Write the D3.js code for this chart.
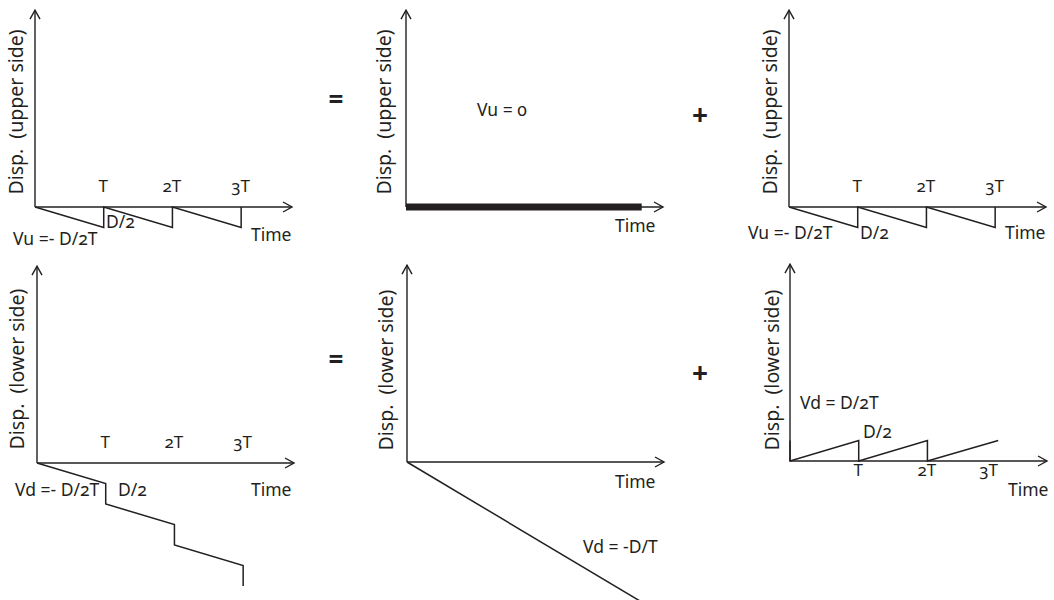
<!DOCTYPE html>
<html><head><meta charset="utf-8">
<script src="https://cdn.jsdelivr.net/npm/d3@7"></script>
<style>
body{margin:0;background:#fff}
svg{display:block;font-family:"Noto Sans",sans-serif;font-variant-numeric:oldstyle-nums;font-feature-settings:"onum" 1;}
text{fill:#231f20}
</style></head><body><svg id="c" width="1054" height="600"></svg>
<script>
// ---- data ----
const tickValues = [1, 2, 3];
const tickLabels = ["T", "2T", "3T"];
const upperSawT = [0, 1, 1, 2, 2, 3, 3];
const upperSawV = [0, -0.5, 0, -0.5, 0, -0.5, 0];
const zeroT = [0, 3.43];
const zeroV = [0, 0];
const stairT = [0, 1, 1, 2, 2, 3, 3];
const stairV = [0, -0.5, -1, -1.5, -2, -2.5, -3];
const rampT = [0, 3.5];
const rampV = [0, -3.5];
const lowerSawT = [0, 0, 1, 1, 2, 2, 3.03];
const lowerSawV = [0.5, 0, 0.5, 0, 0.5, 0, 0.5];
const yTitles = ["Disp.  (upper side)", "Disp.  (lower side)"];
const timeLabel = "Time";

const svg = d3.select("#c");
const ink = "#231f20";
const defs = svg.append("defs");
defs.append("marker").attr("id", "arr").attr("viewBox", "-10 -6 12 12")
  .attr("refX", 0).attr("refY", 0).attr("markerWidth", 12).attr("markerHeight", 12)
  .attr("markerUnits", "userSpaceOnUse").attr("orient", "auto")
  .append("path").attr("d", "M-9,-5L0,0L-9,5").attr("fill", "none")
  .attr("stroke", ink).attr("stroke-width", 1.4);

const panels = [
  {ox: 35, oy: 207, t: upperSawT, v: upperSawV, sw: 1.5, ticks: "top", title: yTitles[0], tx: 16.5, ty: 112,
   notes: [["Vu =- D/2T", 13, 239], ["D/2", 106, 222], [timeLabel, 251, 235]]},
  {ox: 406, oy: 207, t: zeroT, v: zeroV, sw: 7, ticks: null, title: yTitles[0], tx: 384, ty: 112,
   notes: [["Vu = 0", 477, 110], [timeLabel, 615, 226]]},
  {ox: 789, oy: 207, t: upperSawT, v: upperSawV, sw: 1.5, ticks: "top", title: yTitles[0], tx: 770, ty: 112,
   notes: [["Vu =- D/2T", 748, 233], ["D/2", 860, 233], [timeLabel, 1005, 233]]},
  {ox: 37, oy: 463, t: stairT, v: stairV, sw: 1.5, ticks: "top", title: yTitles[1], tx: 17.5, ty: 369,
   notes: [["Vd =- D/2T", 15, 490], ["D/2", 118, 490], [timeLabel, 251, 490]]},
  {ox: 407, oy: 462, t: rampT, v: rampV, sw: 1.5, ticks: null, title: yTitles[1], tx: 386, ty: 370,
   notes: [[timeLabel, 615, 482], ["Vd = -D/T", 583, 547]]},
  {ox: 790, oy: 461, t: lowerSawT, v: lowerSawV, sw: 1.5, ticks: "bottom", title: yTitles[1], tx: 772, ty: 370,
   notes: [["Vd = D/2T", 800, 403], ["D/2", 863, 432], [timeLabel, 1008, 490]]}
];

panels.forEach(p => {
  const x = d3.scaleLinear().domain([0, 3.74]).range([p.ox, p.ox + 257]);
  const y = d3.scaleLinear().domain([0, 1]).range([p.oy, p.oy - 41]);
  const g = svg.append("g");
  // axes with arrows
  g.append("line").attr("x1", x(0)).attr("y1", y(0)).attr("x2", x(0)).attr("y2", y(4.8))
    .attr("stroke", ink).attr("stroke-width", 1.4).attr("marker-end", "url(#arr)");
  g.append("line").attr("x1", x(0)).attr("y1", y(0)).attr("x2", x(3.74)).attr("y2", y(0))
    .attr("stroke", ink).attr("stroke-width", 1.4).attr("marker-end", "url(#arr)");
  // series
  const pts = p.t.map((t, i) => [t, p.v[i]]);
  g.append("path").datum(pts)
    .attr("d", d3.line().x(d => x(d[0])).y(d => y(d[1])))
    .attr("fill", "none").attr("stroke", ink).attr("stroke-width", p.sw)
    .attr("stroke-linejoin", "miter");
  // tick labels
  if (p.ticks) {
    const ax = (p.ticks === "top" ? d3.axisTop(x) : d3.axisBottom(x))
      .tickValues(tickValues).tickFormat((d, i) => tickLabels[i])
      .tickSize(0).tickPadding(p.ticks === "top" ? 15 : 3);
    const ag = g.append("g").attr("transform", `translate(0,${y(0)})`).call(ax);
    ag.select(".domain").remove();
    ag.selectAll("text").attr("font-size", 17).attr("font-family", "Noto Sans").attr("fill", ink)
      .attr("dx", (d, i) => (p.ticks === "bottom" && i === 2) ? -8 : -1);
  }
  // y title
  g.append("text").text(p.title)
    .attr("transform", `translate(${p.tx},${p.ty}) rotate(-90)`)
    .attr("text-anchor", "middle").attr("dy", "0.35em")
    .attr("font-size", 19.5).style("white-space", "pre");
  // notes
  p.notes.forEach(n => {
    g.append("text").text(n[0]).attr("x", n[1]).attr("y", n[2])
      .attr("dy", "0.35em").attr("font-size", 17.5).style("white-space", "pre");
  });
});

// operators
const ops = [["=", 336, 100], ["+", 700, 115], ["=", 336, 360], ["+", 700, 373]];
ops.forEach(o => {
  svg.append("text").text(o[0]).attr("x", o[1]).attr("y", o[2]).attr("dy", "0.35em")
    .attr("text-anchor", "middle").attr("font-size", o[0] === "=" ? 26 : 28).attr("font-weight", "bold");
});
</script></body></html>
